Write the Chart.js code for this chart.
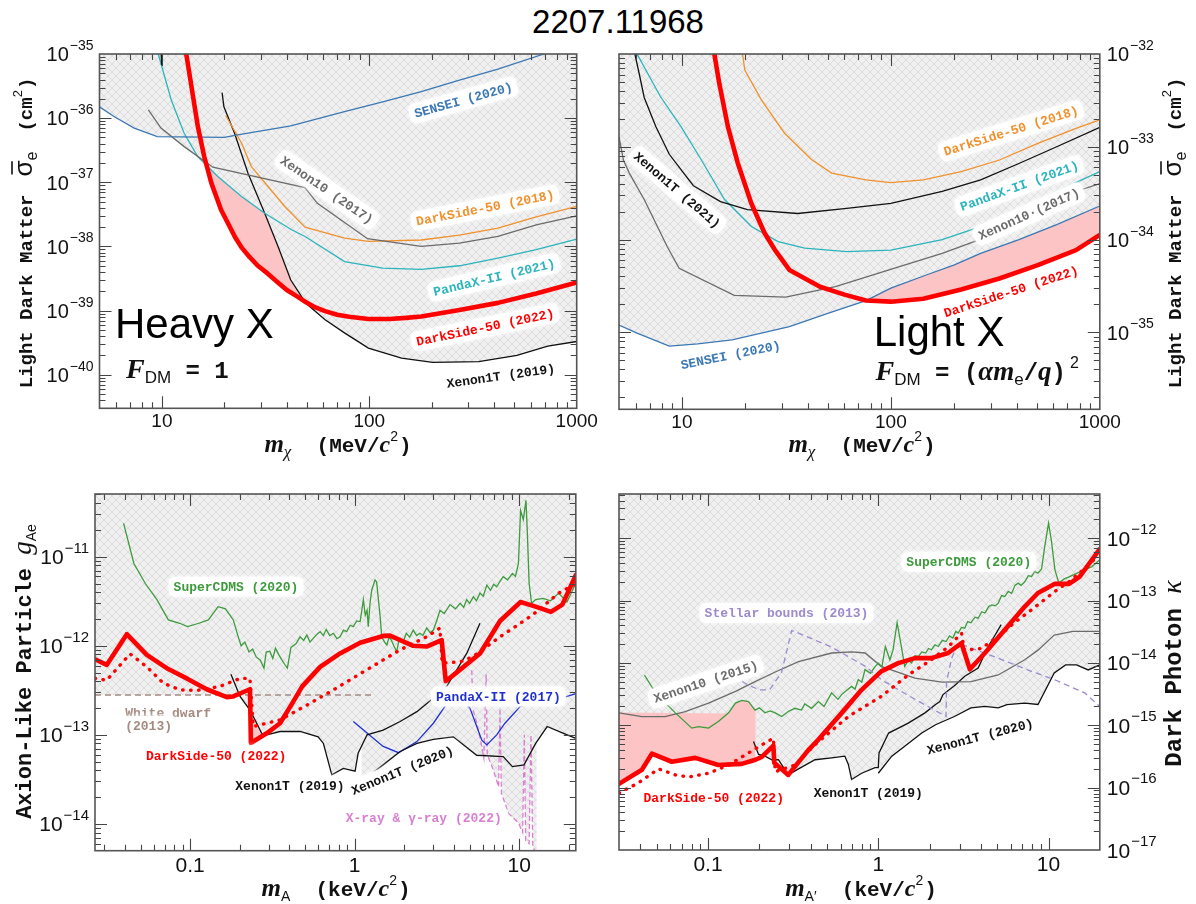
<!DOCTYPE html>
<html>
<head>
<meta charset="utf-8">
<script src="https://cdn.jsdelivr.net/npm/chart.js@4.4.1/dist/chart.umd.min.js"></script>
<style>
  html, body { margin: 0; padding: 0; background: #fff; }
  #page { position: relative; width: 1196px; height: 904px; overflow: hidden; background: #fff; }
  #title { position: absolute; left: 418px; top: 3px; width: 400px; text-align: center;
           font: 33px "Liberation Sans", Arial, sans-serif; color: #000; line-height: 38px; }
  canvas { position: absolute; }
</style>
</head>
<body>
<div id="page">
  <div id="title">2207.11968</div>
  <canvas id="c1" width="598" height="440" style="left:0px;top:40px"></canvas>
  <canvas id="c2" width="598" height="440" style="left:598px;top:40px"></canvas>
  <canvas id="c3" width="598" height="424" style="left:0px;top:480px"></canvas>
  <canvas id="c4" width="598" height="424" style="left:598px;top:480px"></canvas>
</div>
<script>
// ---------------- Heavy mediator: sigma_e vs m_chi (MeV/c^2) ----------------
const p1XTicks = [10, 100, 1000];
const p1YTickExp = [-35, -36, -37, -38, -39, -40];
const p1Sensei = [[5,1.5e-36],[5.9,1.05e-36],[7.35,7.0e-37],[9.5,5.15e-37],[20,5.0e-37],[23.2,5.5e-37],[41.8,7.6e-37],[75.9,1.26e-36],[116,1.8e-36],[178,2.6e-36],[272,3.9e-36],[417,5.8e-36],[695,1.0e-35],[720,1.1e-35]];
const p1Xenon10 = [[8.6,1.34e-36],[9.9,7.0e-37],[12.8,3.6e-37],[17.6,1.72e-37],[48.9,8.3e-38],[56.2,4.7e-38],[98,1.32e-38],[178,1.0e-38],[272,1.13e-38],[417,1.43e-38],[638,2.17e-38],[1000,3.0e-38]];
const p1PandaX = [[9.5,1.3e-35],[9.6,1e-35],[11.1,1.9e-36],[12.8,5.8e-37],[14.9,2.5e-37],[18.6,1.23e-37],[24.2,6.0e-38],[31.3,3.3e-38],[42.2,1.82e-38],[49,1.43e-38],[76,5.8e-39],[116,4.6e-39],[178,4.4e-39],[272,5.0e-39],[417,6.6e-39],[638,8.9e-39],[1000,1.3e-38]];
const p1DS2018 = [[20.3,1.1e-36],[24.2,4.1e-37],[27,1.76e-37],[32.5,8.6e-38],[39.1,4.2e-38],[49,2.0e-38],[76,1.35e-38],[99,1.2e-38],[178,1.26e-38],[272,1.5e-38],[417,1.93e-38],[638,2.9e-38],[1000,4.2e-38]];
const p1X1T2019 = [[19.5,2.5e-36],[19.9,1.5e-36],[22.4,5.8e-37],[26,1.38e-37],[31.3,3.3e-38],[36.3,1.0e-38],[41.8,3.0e-39],[49.5,1.3e-39],[61.2,7.2e-40],[75.9,4.5e-40],[99,2.6e-40],[143,1.82e-40],[202,1.56e-40],[337,1.6e-40],[515,2.0e-40],[725,2.8e-40],[1000,3.3e-40]];
const p1Stub = [[9.9,1.2e-35],[9.97,6.7e-36]];
const p1DS2022 = [[13.0,1.2e-35],[13.1,1e-35],[13.8,3.5e-36],[14.9,7.4e-37],[16.0,2.5e-37],[17.3,9.8e-38],[19.3,3.7e-38],[21.6,1.82e-38],[22.5,1.4e-38],[24.3,9.5e-39],[26.5,6.8e-39],[29,5.0e-39],[32.3,3.8e-39],[36,2.8e-39],[40,2.1e-39],[45,1.65e-39],[49.5,1.35e-39],[55,1.12e-39],[61.2,9.8e-40],[70,8.6e-40],[80,8.0e-40],[99,7.4e-40],[125,7.4e-40],[150,7.7e-40],[178,8.1e-40],[272,1.02e-39],[417,1.32e-39],[638,1.85e-39],[1000,2.75e-39]];

// ---------------- Light mediator ----------------
const p2XTicks = [10, 100, 1000];
const p2YTickExp = [-32, -33, -34, -35];
const p2X1T2021 = [[5.9,1.1e-32],[6.24,6.2e-33],[6.6,3.4e-33],[7.5,1.65e-33],[8.7,8.3e-34],[11.35,3.8e-34],[15.3,2.56e-34],[20.6,2.1e-34],[35.8,1.91e-34],[61.5,2.17e-34],[100,2.46e-34],[176,3.3e-34],[269,4.4e-34],[410,6.6e-34],[622,1.0e-33],[1000,1.62e-33]];
const p2PandaX = [[6.0,1.1e-32],[6.1,1e-32],[7.9,3.46e-33],[9.9,1.65e-33],[12.4,7.2e-34],[16,2.7e-34],[21.5,1.38e-34],[28.9,9.5e-35],[38.7,8.1e-35],[61.5,7.4e-35],[100,7.7e-35],[176,1.0e-34],[269,1.38e-34],[410,2.08e-34],[622,3.3e-34],[1000,5.4e-34]];
const p2DS2018 = [[19.4,1.1e-32],[19.5,1e-32],[20,6.7e-33],[24,3.2e-33],[31,1.4e-33],[41.7,7.3e-34],[52.1,5.2e-34],[76,4.4e-34],[100,4.1e-34],[143,4.4e-34],[217,5.4e-34],[331,7.2e-34],[505,1.09e-33],[769,1.58e-33],[1000,1.95e-33]];
const p2Xenon10 = [[5,1.28e-33],[5.25,7.2e-34],[5.6,5.2e-34],[6.6,2.7e-34],[8.5,8.4e-35],[9.7,4.9e-35],[17.8,2.5e-35],[31.4,2.4e-35],[54.3,3.1e-35],[98,4.7e-35],[176,7.1e-35],[260,9.8e-35],[450,1.85e-34],[801,3.4e-34],[1000,4.0e-34]];
const p2Sensei = [[5,1.2e-35],[6.1,9.8e-36],[8.7,7.1e-36],[11.9,7.5e-36],[17.4,8.3e-36],[32.7,1.15e-35],[49.9,1.6e-35],[76,2.2e-35],[100,3.0e-35],[150,4.2e-35],[200,5.3e-35],[269,7.1e-35],[410,1.0e-34],[622,1.45e-34],[1000,2.3e-34]];
const p2DS2022 = [[14.1,1.2e-32],[14.3,1e-32],[15.1,4.8e-33],[16.6,1.65e-33],[18.5,6.7e-34],[21.5,2.45e-34],[24.9,1.17e-34],[27.8,7.8e-35],[32.7,4.7e-35],[45.8,3.1e-35],[60,2.55e-35],[76,2.2e-35],[100,2.14e-35],[143,2.3e-35],[217,2.9e-35],[331,3.8e-35],[505,5.3e-35],[769,7.7e-35],[1000,1.12e-34]];

// ---------------- Axion-like particle ----------------
const p3XTicks = [0.1, 1, 10];
const p3XTickText = ['0.1', '1', '10'];
const p3YTickExp = [-11, -12, -13, -14];
const p3DS2022 = [[0.0264,7.05e-13],[0.0311,6.1e-13],[0.0412,1.35e-12],[0.0545,7.9e-13],[0.0721,5.6e-13],[0.0953,4.3e-13],[0.126,3.25e-13],[0.167,2.65e-13],[0.183,2.7e-13],[0.231,3.25e-13],[0.234,8.1e-14],[0.292,1.04e-13],[0.352,1.35e-13],[0.42,2.3e-13],[0.48,3.5e-13],[0.617,5.8e-13],[0.815,8.2e-13],[1.08,1.08e-12],[1.49,1.29e-12],[1.64,1.3e-12],[2.27,1.0e-12],[2.74,9.8e-13],[3.38,1.16e-12],[3.58,4.0e-13],[4.38,5.4e-13],[5.78,8.2e-13],[7.65,1.9e-12],[10.2,3.1e-12],[12.6,2.75e-12],[15.6,2.4e-12],[18.3,2.9e-12],[22.1,6.2e-12]];
const p3DSExpected = [[0.0264,4.3e-13],[0.0311,4.1e-13],[0.0431,8.1e-13],[0.0545,5.8e-13],[0.0687,3.8e-13],[0.0869,3.2e-13],[0.11,3.15e-13],[0.152,3.5e-13],[0.201,4.3e-13],[0.231,4.3e-13],[0.242,1.24e-13],[0.352,1.47e-13],[0.5,2.1e-13],[0.743,3.2e-13],[1.19,5.4e-13],[1.89,9.0e-13],[2.74,1.26e-12],[3.3,1.58e-12],[3.4,6.4e-13],[4.4,6.6e-13],[5.27,7.6e-13],[7.65,1.26e-12],[12,2.2e-12],[17.4,3.9e-12],[22.1,5.0e-12]];
const p3WhiteDwarf = [[0.0264,2.8e-13],[1.3,2.8e-13]];
const p3X1T2019 = [[0.177,4.8e-13],[0.201,2.7e-13],[0.231,1.9e-13],[0.254,1.35e-13],[0.272,1.04e-13],[0.292,1.0e-13],[0.352,1.09e-13],[0.466,1.09e-13],[0.6,9.5e-14],[0.646,8.0e-14],[0.726,3.55e-14],[0.853,4.2e-14],[1.006,3.9e-14],[1.05,6.2e-14],[1.19,1.0e-13],[1.49,1.13e-13],[1.89,1.41e-13],[2.39,1.82e-13],[2.94,2.5e-13],[3.63,3.5e-13],[4.8,8.2e-13],[5.78,1.79e-12]];
const p3X1T2020 = [[1.1,3.0e-14],[1.49,4.6e-14],[1.89,6.5e-14],[2.39,8.0e-14],[3.01,8.9e-14],[3.98,9.5e-14],[5.52,5.9e-14],[8.0,5.7e-14],[9.1,4.4e-14],[10.7,4.6e-14],[12.6,8.0e-14],[14.8,1.24e-13],[18.3,1.05e-13],[22.1,9.1e-14]];
const p3PandaX2017 = [[0.982,1.41e-13],[1.19,1.05e-13],[1.49,7.4e-14],[1.85,6.3e-14],[2.39,8.4e-14],[3.01,1.35e-13],[3.55,2.1e-13],[4.2,2.8e-13],[5.02,2.0e-13],[5.93,8.7e-14],[6.36,7.7e-14],[7.3,1.0e-13],[8.2,1.35e-13],[10.2,2.1e-13],[18.3,2.6e-13],[22.1,2.9e-13]];
const p3SuperCDMS = [[0.0394,2.37e-11],[0.0455,8.4e-12],[0.0534,5.0e-12],[0.0628,3.3e-12],[0.0737,1.95e-12],[0.0865,1.79e-12],[0.0963,1.64e-12],[0.113,1.79e-12],[0.129,1.95e-12],[0.148,2.75e-12],[0.164,2.6e-12],[0.183,1.95e-12],[0.195,1.3e-12],[0.204,1.0e-12],[0.215,1.1e-12],[0.228,8.5e-13],[0.24,9.2e-13],[0.252,7.5e-13],[0.267,6.9e-13],[0.281,5.6e-13],[0.29,8.5e-13],[0.305,8.7e-13],[0.318,7.2e-13],[0.33,9.4e-13],[0.345,8.0e-13],[0.36,7.0e-13],[0.375,6.2e-13],[0.39,5.6e-13],[0.41,9.6e-13],[0.44,1.05e-12],[0.466,1.26e-12],[0.49,1.15e-12],[0.512,1.32e-12],[0.535,1.1e-12],[0.56,1.21e-12],[0.59,1.35e-12],[0.617,1.44e-12],[0.645,1.3e-12],[0.672,1.53e-12],[0.705,1.3e-12],[0.743,1.38e-12],[0.78,1.2e-12],[0.815,1.26e-12],[0.855,1.5e-12],[0.894,1.44e-12],[0.94,1.7e-12],[0.98,1.64e-12],[1.03,1.9e-12],[1.08,1.87e-12],[1.13,3.3e-12],[1.16,2.2e-12],[1.19,2.5e-12],[1.21,1.64e-12],[1.24,3.0e-12],[1.27,4.2e-12],[1.33,5.5e-12],[1.36,5.2e-12],[1.43,2.1e-12],[1.46,1.26e-12],[1.52,1.1e-12],[1.57,1.02e-12],[1.62,1.25e-12],[1.67,1.16e-12],[1.73,1.0e-12],[1.8,8.6e-13],[1.85,1.1e-12],[1.89,1.21e-12],[1.97,1.1e-12],[2.06,1.38e-12],[2.16,1.25e-12],[2.27,1.5e-12],[2.38,1.3e-12],[2.49,1.38e-12],[2.6,1.3e-12],[2.74,1.58e-12],[2.88,1.4e-12],[3.01,1.5e-12],[3.15,1.9e-12],[3.3,2.5e-12],[3.5,2.3e-12],[3.8,2.9e-12],[4.1,2.6e-12],[4.38,3.0e-12],[4.6,2.7e-12],[4.8,3.3e-12],[5.0,3.0e-12],[5.27,3.55e-12],[5.5,3.2e-12],[5.78,3.9e-12],[6.05,3.6e-12],[6.36,4.8e-12],[6.7,4.2e-12],[7.0,4.9e-12],[7.3,4.6e-12],[7.65,5.3e-12],[8.0,5.96e-12],[8.5,5.5e-12],[9.1,6.5e-12],[9.5,6.0e-12],[9.9,8.4e-12],[10.2,3.3e-11],[10.6,2.6e-11],[11.0,4.3e-11],[11.2,2.0e-11],[11.5,5.0e-12],[11.9,3.0e-12],[12.6,3.3e-12],[14.0,3.4e-12],[15.5,3.2e-12],[17.4,3.9e-12],[19.5,3.1e-12],[22.1,5.0e-12]];
const p3XRay = [[5.15,5.3e-13],[5.25,1.9e-13],[5.5,1.4e-13],[5.8,9e-14],[6.1,5.5e-14],[6.3,4.8e-13],[6.4,6e-14],[6.98,4.0e-14],[7.5,2.6e-14],[7.65,2.0e-13],[7.8,2.2e-14],[8.65,1.3e-14],[9.9,1.03e-14],[10.5,8e-15],[10.75,1.0e-13],[10.95,6.5e-15],[11.5,6e-15],[11.8,1.0e-13],[12.1,5.5e-15],[12.8,4.5e-15]];

// ---------------- Dark photon ----------------
const p4XTicks = [0.1, 1, 10];
const p4XTickText = ['0.1', '1', '10'];
const p4YTickExp = [-12, -13, -14, -15, -16, -17];
const p4DS2022 = [[0.03,1.15e-16],[0.0409,1.94e-16],[0.0468,3.5e-16],[0.0613,2.6e-16],[0.0841,3.0e-16],[0.115,2.3e-16],[0.158,2.4e-16],[0.19,2.8e-16],[0.207,3.1e-16],[0.242,4.7e-16],[0.245,2.5e-16],[0.296,1.6e-16],[0.388,4.0e-16],[0.445,5.9e-16],[0.61,1.58e-15],[0.798,3.7e-15],[1.04,7.3e-15],[1.31,9.9e-15],[1.64,1.19e-14],[2.05,1.19e-14],[2.57,1.44e-14],[3.08,2.07e-14],[3.45,7.9e-15],[4.23,1.44e-14],[5.54,3.4e-14],[7.25,8.0e-14],[8.67,1.32e-13],[10.9,1.85e-13],[13.2,1.85e-13],[15.2,2.4e-13],[20,6.7e-13]];
const p4DSExpected = [[0.03,8.2e-17],[0.039,1.19e-16],[0.0512,2.0e-16],[0.0643,1.6e-16],[0.0769,1.48e-16],[0.1007,1.7e-16],[0.132,2.3e-16],[0.173,3.6e-16],[0.216,5.2e-16],[0.242,6.2e-16],[0.248,1.8e-16],[0.324,2.3e-16],[0.425,4.9e-16],[0.667,1.38e-15],[1.04,2.9e-15],[1.5,6.4e-15],[2.05,1.12e-14],[2.57,1.8e-14],[3.08,3.0e-14],[3.2,1.6e-14],[4.03,1.7e-14],[5.06,2.65e-14],[6.3,4.4e-14],[7.95,7.1e-14],[10.9,1.4e-13],[13.2,2.0e-13],[16.2,3.2e-13],[18.5,4.5e-13]];
const p4PinkTop = [[0.03,1.6e-15],[0.13,1.55e-15],[0.145,2.27e-15],[0.158,2.5e-15],[0.173,2.4e-15],[0.19,1.75e-15]];
const p4X1T2019 = [[0.185,5.5e-16],[0.198,3.4e-16],[0.216,3.2e-16],[0.237,2.8e-16],[0.259,2.8e-16],[0.296,1.6e-16],[0.34,2.0e-16],[0.425,2.8e-16],[0.532,3.0e-16],[0.636,3.2e-16],[0.667,2.35e-16],[0.697,1.35e-16],[0.798,1.7e-16],[0.957,2.1e-16],[1.0,2.1e-16],[1.01,3.6e-16],[1.15,7.5e-16],[1.5,1.08e-15],[1.88,1.58e-15],[2.17,2.15e-15],[2.3,2.4e-15],[2.4,3.1e-15],[2.8,4.3e-15],[3.22,6.1e-15],[3.86,8.3e-15],[4.42,1.83e-14],[4.8,2.65e-14],[5.27,4.1e-14]];
const p4X1T2020 = [[1.0,1.7e-16],[1.2,3.2e-16],[1.43,4.6e-16],[1.8,7.5e-16],[2.17,1.02e-15],[2.8,1.38e-15],[3.5,1.9e-15],[4.23,2.0e-15],[5.06,1.9e-15],[5.7,2.15e-15],[7.25,2.27e-15],[8.67,2.15e-15],[10.8,6.9e-15],[12.6,9.3e-15],[14.6,9.3e-15],[17.1,7.7e-15],[20,9.3e-15]];
const p4Xenon10 = [[0.03,1.58e-15],[0.0409,1.38e-15],[0.056,1.38e-15],[0.0735,1.66e-15],[0.1007,2.27e-15],[0.145,3.5e-15],[0.189,5.0e-15],[0.25,7.2e-15],[0.34,1.05e-14],[0.532,1.44e-14],[0.7,1.5e-14],[0.836,1.44e-14],[1.04,8.8e-15],[1.64,5.7e-15],[2.37,4.9e-15],[3.5,5.0e-15],[5.06,6.4e-15],[7.25,1.12e-14],[8.67,1.6e-14],[10.8,2.8e-14],[13.9,3.2e-14],[20,3.2e-14]];
const p4Stellar = [[0.141,6.1e-15],[0.17,4.5e-15],[0.2,3.7e-15],[0.23,3.7e-15],[0.27,7e-15],[0.31,3.3e-14],[0.34,3.0e-14],[0.53,1.8e-14],[0.84,8.8e-15],[1.04,5.4e-15],[1.5,3.0e-15],[2.5,1.38e-15],[2.52,5e-15],[2.7,1.2e-14],[2.95,2.1e-14],[3.5,1.73e-14],[5.06,1.19e-14],[7.95,7.3e-15],[10.8,5.4e-15],[16.3,3.3e-15],[20,2e-15]];
const p4SuperCDMS = [[0.0423,6.4e-15],[0.0492,3.3e-15],[0.056,2.3e-15],[0.0643,1.58e-15],[0.0803,9.0e-16],[0.088,9.5e-16],[0.1007,9.0e-16],[0.115,1.15e-15],[0.132,1.58e-15],[0.145,2.27e-15],[0.158,2.5e-15],[0.173,2.4e-15],[0.189,1.75e-15],[0.2,1.9e-15],[0.216,1.58e-15],[0.232,1.7e-15],[0.248,1.58e-15],[0.271,1.38e-15],[0.296,1.66e-15],[0.324,1.87e-15],[0.354,1.75e-15],[0.37,2.2e-15],[0.406,1.87e-15],[0.445,2.4e-15],[0.48,2.0e-15],[0.532,3.3e-15],[0.58,2.6e-15],[0.609,3.1e-15],[0.65,3.6e-15],[0.697,4.2e-15],[0.73,3.8e-15],[0.763,5.4e-15],[0.8,4.9e-15],[0.836,7.8e-15],[0.9,6.8e-15],[0.95,8.5e-15],[1.0,9.9e-15],[1.05,8.6e-15],[1.1,1.83e-14],[1.17,1.12e-14],[1.22,1.6e-14],[1.29,4.4e-14],[1.35,2.2e-14],[1.43,8.8e-15],[1.5,1.1e-14],[1.57,1.0e-14],[1.64,1.3e-14],[1.72,1.26e-14],[1.8,1.5e-14],[1.9,1.44e-14],[1.97,1.7e-14],[2.05,1.62e-14],[2.15,1.95e-14],[2.25,1.83e-14],[2.38,2.3e-14],[2.5,2.2e-14],[2.62,2.7e-14],[2.74,2.5e-14],[2.85,3.2e-14],[2.95,3.0e-14],[3.08,3.7e-14],[3.22,3.6e-14],[3.35,4.6e-14],[3.5,4.4e-14],[3.7,5.4e-14],[3.86,5.2e-14],[4.05,6.6e-14],[4.23,6.3e-14],[4.45,8.0e-14],[4.64,8.5e-14],[4.85,8.2e-14],[5.06,9e-14],[5.3,1.2e-13],[5.54,1.16e-13],[5.8,1.4e-13],[6.07,1.3e-13],[6.35,1.75e-13],[6.63,1.9e-13],[6.9,1.75e-13],[7.25,2.0e-13],[7.6,2.5e-13],[7.95,2.43e-13],[8.3,2.9e-13],[8.67,2.75e-13],[9.1,3.2e-13],[9.5,7.4e-13],[10.0,1.74e-12],[10.4,9e-13],[10.9,3.1e-13],[11.5,1.9e-13],[12.3,2.2e-13],[13.2,2.4e-13],[14.5,2.7e-13],[16.2,3.1e-13],[18,3.5e-13],[20,4.5e-13]];

// ---------------- look ----------------
const MONO = '"Liberation Mono","DejaVu Sans Mono",monospace';
const SANS = '"Liberation Sans",Arial,sans-serif';
const SERIF = '"Liberation Serif","DejaVu Serif",serif';
const C = {
  sensei: '#3b78b4', pandax: '#2bb4bd', ds2018: '#f0912e', xenon10: '#6b6b6b', black: '#111111',
  red: '#ff0000', pink: '#fcc4c4', cdms: '#3d9a3d', pandax17: '#1f2fd4', xray: '#d97fd2',
  wd: '#a48a80', stellar: '#9d8ad0'
};

function makeHatch() {
  const t = document.createElement('canvas');
  t.width = 8; t.height = 8;
  const g = t.getContext('2d');
  g.fillStyle = '#f0f0f0'; g.fillRect(0, 0, 8, 8);
  g.strokeStyle = '#dcdcdc'; g.lineWidth = 1;
  g.beginPath(); g.moveTo(0, 0); g.lineTo(8, 8); g.moveTo(8, 0); g.lineTo(0, 8); g.stroke();
  return g.createPattern(t, 'repeat');
}
const HATCH = makeHatch();

const pts = a => a.map(([x, y]) => ({x, y}));
function curve(data, color, extra) {
  return Object.assign({data: pts(data), borderColor: color, borderWidth: 1.3, pointRadius: 0,
    fill: false, tension: 0, order: 5}, extra || {});
}
const hatched = {fill: 'end', backgroundColor: HATCH, order: 10};
function redLine(data) {
  return curve(data, C.red, {borderWidth: 4.6, order: 0, borderJoinStyle: 'round', borderCapStyle: 'round'});
}
function redDots(data) {
  return curve(data, C.red, {borderWidth: 3.4, order: 1, borderDash: [0.5, 7.5], borderCapStyle: 'round'});
}
function pinkUnder(data) {
  return curve(data, 'rgba(0,0,0,0)', {fill: 'end', backgroundColor: C.pink, order: 100, borderWidth: 1});
}

// ---------------- drawing helpers ----------------
function rr(ctx, x, y, w, h, r) {
  ctx.beginPath();
  ctx.moveTo(x + r, y); ctx.lineTo(x + w - r, y); ctx.quadraticCurveTo(x + w, y, x + w, y + r);
  ctx.lineTo(x + w, y + h - r); ctx.quadraticCurveTo(x + w, y + h, x + w - r, y + h);
  ctx.lineTo(x + r, y + h); ctx.quadraticCurveTo(x, y + h, x, y + h - r);
  ctx.lineTo(x, y + r); ctx.quadraticCurveTo(x, y, x + r, y); ctx.closePath();
}
function tag(c, L, size) {
  const ctx = c.ctx;
  const px = c.scales.x.getPixelForValue(L.x), py = c.scales.y.getPixelForValue(L.y);
  ctx.save();
  ctx.translate(px, py); ctx.rotate((L.r || 0) * Math.PI / 180);
  ctx.font = `bold ${size}px ${MONO}`;
  const w = ctx.measureText(L.t).width, h = size + 7;
  const x0 = L.align === 'left' ? 0 : -w / 2;
  ctx.fillStyle = 'rgba(255,255,255,0.96)';
  ctx.shadowColor = 'rgba(255,255,255,1)'; ctx.shadowBlur = 5;
  rr(ctx, x0 - 5, -h / 2, w + 10, h, 7); ctx.fill();
  ctx.shadowBlur = 0;
  ctx.fillStyle = L.c; ctx.textAlign = 'left'; ctx.textBaseline = 'middle';
  ctx.fillText(L.t, x0, 1);
  ctx.restore();
}
function rich(ctx, x, y, runs, align, angle) {
  ctx.save();
  ctx.translate(x, y); ctx.rotate((angle || 0) * Math.PI / 180);
  let total = 0;
  for (const r of runs) { ctx.font = r.f; r.w = ctx.measureText(r.t).width + (r.sp || 0); total += r.w; }
  let cx = align === 'center' ? -total / 2 : (align === 'right' ? -total : 0);
  ctx.textAlign = 'left'; ctx.textBaseline = 'alphabetic';
  for (const r of runs) {
    ctx.font = r.f; ctx.fillStyle = r.c || '#111';
    ctx.fillText(r.t, cx, r.dy || 0);
    if (r.bar) {
      const gw = ctx.measureText(r.t).width;
      ctx.strokeStyle = r.c || '#111'; ctx.lineWidth = 1.6;
      ctx.beginPath(); ctx.moveTo(cx + gw * 0.12, r.bar); ctx.lineTo(cx + gw * 0.95, r.bar); ctx.stroke();
    }
    cx += r.w;
  }
  ctx.restore();
}
function logTicks(min, max) {
  const out = [];
  for (let e = Math.floor(Math.log10(min)); e <= Math.ceil(Math.log10(max)); e++) {
    for (let k = 1; k <= 9; k++) {
      const v = k * Math.pow(10, e);
      if (v > min * 1.0005 && v < max * 0.9995) out.push({v, major: k === 1});
    }
  }
  return out;
}
function frameAndTicks(c) {
  const {ctx, chartArea: a, scales: {x, y}} = c;
  ctx.save();
  ctx.strokeStyle = '#444'; ctx.lineWidth = 1.1;
  ctx.beginPath();
  for (const t of logTicks(x.min, x.max)) {
    const px = Math.round(x.getPixelForValue(t.v)) + 0.5, L = t.major ? 12 : 6;
    ctx.moveTo(px, a.bottom); ctx.lineTo(px, a.bottom - L);
    ctx.moveTo(px, a.top); ctx.lineTo(px, a.top + L);
  }
  for (const t of logTicks(y.min, y.max)) {
    const py = Math.round(y.getPixelForValue(t.v)) + 0.5, L = t.major ? 12 : 6;
    ctx.moveTo(a.left, py); ctx.lineTo(a.left + L, py);
    ctx.moveTo(a.right, py); ctx.lineTo(a.right - L, py);
  }
  ctx.stroke();
  ctx.strokeStyle = '#555'; ctx.lineWidth = 1.6;
  ctx.strokeRect(a.left, a.top, a.right - a.left, a.bottom - a.top);
  ctx.restore();
}
function yTickLabels(c, exps, side, big, small) {
  const {ctx, chartArea: a, scales: {y}} = c;
  ctx.save(); ctx.fillStyle = '#111'; ctx.textBaseline = 'alphabetic'; ctx.textAlign = 'left';
  for (const e of exps) {
    const py = y.getPixelForValue(Math.pow(10, e));
    const sup = '\u2212' + Math.abs(e);
    ctx.font = `${big}px ${SANS}`; const w1 = ctx.measureText('10').width;
    ctx.font = `${small}px ${SANS}`; const w2 = ctx.measureText(sup).width;
    const x0 = side === 'left' ? a.left - 6 - w1 - w2 - 1 : a.right + 7;
    ctx.font = `${big}px ${SANS}`; ctx.fillText('10', x0, py + big * 0.36);
    ctx.font = `${small}px ${SANS}`; ctx.fillText(sup, x0 + w1 + 1, py - big * 0.2);
  }
  ctx.restore();
}
function xTickLabels(c, vals, texts, size, gap) {
  const {ctx, chartArea: a, scales: {x}} = c;
  ctx.save(); ctx.fillStyle = '#111'; ctx.font = `${size}px ${SANS}`;
  ctx.textAlign = 'center'; ctx.textBaseline = 'alphabetic';
  vals.forEach((v, i) => ctx.fillText(texts[i], x.getPixelForValue(v), a.bottom + gap));
  ctx.restore();
}

function makeChart(id, cfg) {
  return new Chart(document.getElementById(id), {
    type: 'line',
    data: {datasets: cfg.datasets},
    options: {
      responsive: false, animation: false, devicePixelRatio: 1,
      layout: {padding: cfg.pad},
      plugins: {legend: {display: false}, tooltip: {enabled: false}, filler: {drawTime: 'beforeDatasetsDraw'}},
      scales: {
        x: {type: 'logarithmic', min: cfg.xmin, max: cfg.xmax, grid: {display: false}, border: {display: false},
            ticks: {display: false}, afterFit: s => { s.height = cfg.xh; }},
        y: {type: 'logarithmic', position: cfg.ypos, min: cfg.ymin, max: cfg.ymax, grid: {display: false},
            border: {display: false}, ticks: {display: false}, afterFit: s => { s.width = cfg.yw; }}
      }
    },
    plugins: [{id: 'decor', afterDatasetsDraw: ch => cfg.decor(ch)}]
  });
}

// ---------------- panel text ----------------
const sigmaTitle = size => [
  {t: 'Light Dark Matter', f: `bold ${size}px ${MONO}`},
  {t: '', f: `bold ${size}px ${MONO}`, sp: 18},
  {t: '\u03c3', f: `26px ${SANS}`, bar: -20},
  {t: 'e', f: `16px ${SANS}`, dy: 5, sp: 20},
  {t: '(cm', f: `bold ${size}px ${MONO}`},
  {t: '2', f: `13px ${SANS}`, dy: -10, sp: 1},
  {t: ')', f: `bold ${size}px ${MONO}`}
];
const massTitle = (sub, subFont, unit) => [
  {t: 'm', f: `bold italic 25px ${SERIF}`},
  {t: sub, f: subFont, dy: 5},
  {t: '  (' + unit + '/', f: `bold 21px ${MONO}`},
  {t: 'c', f: `bold italic 24px ${SERIF}`},
  {t: '2', f: `14px ${SANS}`, dy: -11, sp: 1},
  {t: ')', f: `bold 21px ${MONO}`}
];

const p1Labels = [
  {t: 'SENSEI (2020)', x: 284, y: 1.92e-36, r: -15.6, c: C.sensei},
  {t: 'Xenon10 (2017)', x: 62.5, y: 7.6e-38, r: 34.6, c: C.xenon10},
  {t: 'DarkSide-50 (2018)', x: 362, y: 4.0e-38, r: -11.1, c: C.ds2018},
  {t: 'PandaX-II (2021)', x: 400, y: 3.3e-39, r: -13.4, c: C.pandax},
  {t: 'DarkSide-50 (2022)', x: 362, y: 5.5e-40, r: -11.8, c: C.red},
  {t: 'Xenon1T (2019)', x: 430, y: 9.6e-41, r: -8.1, c: C.black}
];
const p2Labels = [
  {t: 'Xenon1T (2021)', x: 9.5, y: 3.42e-34, r: 40.6, c: C.black},
  {t: 'DarkSide-50 (2018)', x: 376, y: 1.49e-33, r: -17.4, c: C.ds2018},
  {t: 'PandaX-II (2021)', x: 412, y: 3.8e-34, r: -19.8, c: C.pandax},
  {t: 'Xenon10\u00b7(2017)', x: 458, y: 1.89e-34, r: -24, c: C.xenon10},
  {t: 'DarkSide-50 (2022)', x: 376, y: 2.75e-35, r: -18, c: C.red},
  {t: 'SENSEI (2020)', x: 17.1, y: 5.7e-36, r: -11.4, c: C.sensei}
];
const p3Labels = [
  {t: 'SuperCDMS (2020)', x: 0.19, y: 4.6e-12, r: 0, c: C.cdms},
  {t: 'White dwarf', x: 0.0403, y: 1.75e-13, r: 0, c: C.wd, align: 'left'},
  {t: '(2013)', x: 0.0403, y: 1.26e-13, r: 0, c: C.wd, align: 'left'},
  {t: 'DarkSide-50 (2022)', x: 0.144, y: 5.8e-14, r: 0, c: C.red},
  {t: 'Xenon1T (2019)', x: 0.404, y: 2.67e-14, r: 0, c: C.black},
  {t: 'Xenon1T (2020)', x: 1.95, y: 4.0e-14, r: -22.3, c: C.black},
  {t: 'PandaX-II (2017)', x: 7.48, y: 2.69e-13, r: 0, c: C.pandax17},
  {t: 'X-ray & \u03b3-ray (2022)', x: 2.63, y: 1.16e-14, r: 0, c: C.xray}
];
const p4Labels = [
  {t: 'SuperCDMS (2020)', x: 3.4, y: 4.2e-13, r: 0, c: C.cdms},
  {t: 'Stellar bounds (2013)', x: 0.289, y: 6.3e-14, r: 0, c: C.stellar},
  {t: 'Xenon10 (2015)', x: 0.097, y: 5.0e-15, r: -18.3, c: C.xenon10},
  {t: 'Xenon1T (2020)', x: 3.96, y: 6.6e-16, r: -14.6, c: C.black},
  {t: 'Xenon1T (2019)', x: 0.873, y: 8.2e-17, r: 0, c: C.black},
  {t: 'DarkSide-50 (2022)', x: 0.108, y: 6.8e-17, r: 0, c: C.red}
];

// ---------------- panels ----------------
makeChart('c1', {
  xmin: 5, xmax: 1000, ymin: 3.0e-41, ymax: 1e-35, ypos: 'left',
  pad: {left: 0, right: 21.3, top: 14, bottom: 0}, yw: 99.5, xh: 71.7,
  datasets: [
    redLine(p1DS2022),
    curve(p1Stub, C.black),
    curve(p1Sensei, C.sensei, hatched),
    curve(p1Xenon10, C.xenon10, hatched),
    curve(p1PandaX, C.pandax, hatched),
    curve(p1DS2018, C.ds2018, hatched),
    curve(p1X1T2019, C.black, hatched),
    pinkUnder(p1DS2022)
  ],
  decor: c => {
    const ctx = c.ctx;
    p1Labels.forEach(L => tag(c, L, 13));
    ctx.save(); ctx.fillStyle = '#000'; ctx.font = `42px ${SANS}`; ctx.fillText('Heavy X', 115, 298); ctx.restore();
    rich(ctx, 126, 338, [
      {t: 'F', f: `bold italic 28px ${SERIF}`},
      {t: 'DM', f: `17px ${SANS}`, dy: 5},
      {t: ' = 1', f: `bold 24px ${MONO}`}
    ], 'left', 0);
    frameAndTicks(c);
    yTickLabels(c, p1YTickExp, 'left', 20, 14);
    xTickLabels(c, p1XTicks, p1XTicks.map(String), 19, 19);
    rich(ctx, 32, 193, sigmaTitle(19), 'center', -90);
    rich(ctx, 338, 412, massTitle('\u03c7', `italic 17px ${SERIF}`, 'MeV'), 'center', 0);
  }
});

makeChart('c2', {
  xmin: 5, xmax: 1000, ymin: 1.48e-36, ymax: 1e-32, ypos: 'right',
  pad: {left: 21, right: 0, top: 14, bottom: 0}, yw: 96.2, xh: 70.7,
  datasets: [
    redLine(p2DS2022),
    curve(p2X1T2021, C.black, hatched),
    curve(p2PandaX, C.pandax, hatched),
    curve(p2DS2018, C.ds2018, hatched),
    curve(p2Xenon10, C.xenon10, hatched),
    curve(p2Sensei, C.sensei, hatched),
    pinkUnder(p2DS2022)
  ],
  decor: c => {
    const ctx = c.ctx;
    p2Labels.forEach(L => tag(c, L, 13));
    ctx.save(); ctx.fillStyle = '#000'; ctx.font = `42px ${SANS}`; ctx.fillText('Light X', 275.7, 306); ctx.restore();
    rich(ctx, 277.6, 340, [
      {t: 'F', f: `bold italic 28px ${SERIF}`},
      {t: 'DM', f: `17px ${SANS}`, dy: 5},
      {t: ' = (', f: `bold 24px ${MONO}`},
      {t: '\u03b1m', f: `bold italic 27px ${SERIF}`},
      {t: 'e', f: `17px ${SANS}`, dy: 5},
      {t: '/', f: `bold 24px ${MONO}`},
      {t: 'q', f: `bold italic 27px ${SERIF}`},
      {t: ')', f: `bold 24px ${MONO}`, sp: 4},
      {t: '2', f: `16px ${SANS}`, dy: -12}
    ], 'left', 0);
    frameAndTicks(c);
    yTickLabels(c, p2YTickExp, 'right', 20, 14);
    xTickLabels(c, p2XTicks, p2XTicks.map(String), 19, 19);
    rich(ctx, 583, 193, sigmaTitle(19), 'center', -90);
    rich(ctx, 264, 412, massTitle('\u03c7', `italic 17px ${SERIF}`, 'MeV'), 'center', 0);
  }
});

makeChart('c3', {
  xmin: 0.0264, xmax: 22.1, ymin: 5e-15, ymax: 5.06e-11, ypos: 'left',
  pad: {left: 0, right: 22.2, top: 14, bottom: 0}, yw: 95, xh: 53.3,
  datasets: [
    redLine(p3DS2022),
    redDots(p3DSExpected),
    curve(p3SuperCDMS, C.cdms, hatched),
    curve(p3X1T2019, C.black, hatched),
    curve(p3X1T2020, C.black, hatched),
    curve(p3PandaX2017, C.pandax17, hatched),
    curve(p3XRay, C.xray, Object.assign({borderDash: [5, 3]}, hatched)),
    curve(p3WhiteDwarf, C.wd, Object.assign({borderDash: [6, 4]}, hatched)),
    pinkUnder(p3DS2022)
  ],
  decor: c => {
    const ctx = c.ctx;
    p3Labels.forEach(L => tag(c, L, 13));
    frameAndTicks(c);
    yTickLabels(c, p3YTickExp, 'left', 21, 15);
    xTickLabels(c, p3XTicks, p3XTickText, 21, 21);
    rich(ctx, 31, 191.5, [
      {t: 'Axion-Like Particle ', f: `bold 22px ${MONO}`},
      {t: 'g', f: `italic 27px ${SERIF}`},
      {t: 'Ae', f: `14px ${SANS}`, dy: 5}
    ], 'center', -90);
    rich(ctx, 336, 416, massTitle('A', `14px ${SANS}`, 'keV'), 'center', 0);
  }
});

// pink band: upper edge, then back along the DarkSide-50 (2022) curve
const p4PinkShape = p4PinkTop.concat(p4DS2022.filter(p => p[0] <= 0.19).reverse());
makeChart('c4', {
  xmin: 0.03, xmax: 20, ymin: 1e-17, ymax: 5.1e-12, ypos: 'right',
  pad: {left: 21, right: 0, top: 14, bottom: 0}, yw: 96.2, xh: 54,
  datasets: [
    redLine(p4DS2022),
    redDots(p4DSExpected),
    curve(p4Stellar, C.stellar, {borderDash: [6, 4]}),
    curve(p4PinkShape, 'rgba(0,0,0,0)', {fill: 'shape', backgroundColor: C.pink, order: 7, borderWidth: 1}),
    curve(p4SuperCDMS, C.cdms, hatched),
    curve(p4Xenon10, C.xenon10, hatched),
    curve(p4X1T2019, C.black, hatched),
    curve(p4X1T2020, C.black, hatched)
  ],
  decor: c => {
    const ctx = c.ctx;
    p4Labels.forEach(L => tag(c, L, 13));
    frameAndTicks(c);
    yTickLabels(c, p4YTickExp, 'right', 21, 15);
    xTickLabels(c, p4XTicks, p4XTickText, 21, 21);
    rich(ctx, 583, 193.5, [
      {t: 'Dark Photon ', f: `bold 24px ${MONO}`},
      {t: '\u03ba', f: `italic 28px ${SERIF}`}
    ], 'center', -90);
    rich(ctx, 263, 416, massTitle('A\u2032', `14px ${SANS}`, 'keV'), 'center', 0);
  }
});
</script>
</body>
</html>
